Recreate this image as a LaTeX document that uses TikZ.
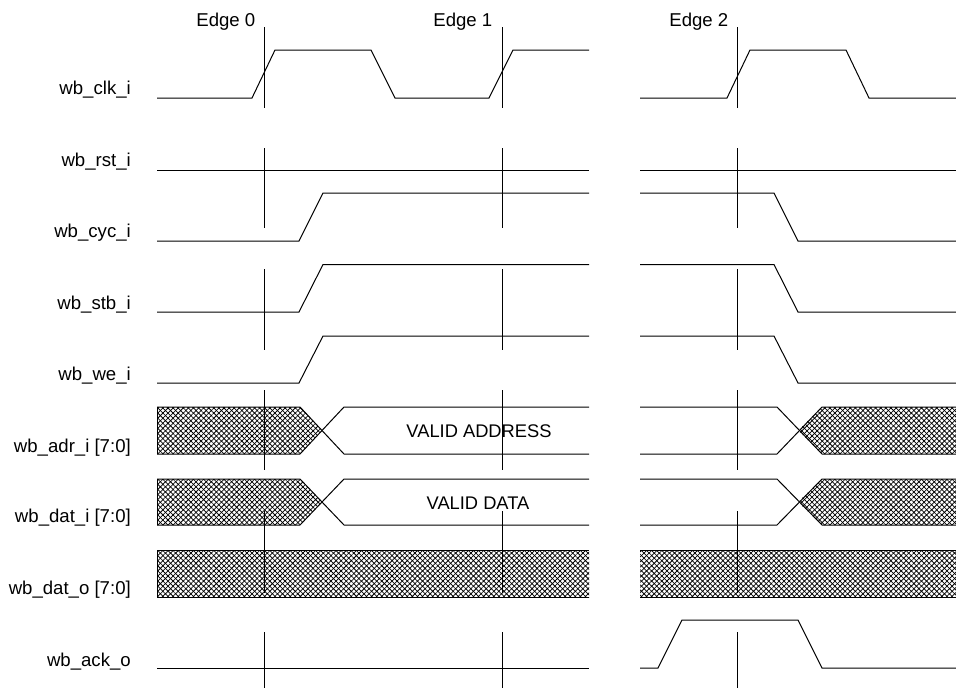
\documentclass[tikz,border=0pt]{standalone}
\usepackage{fontspec}
\setmainfont{Liberation Sans}
\usetikzlibrary{patterns.meta}
\begin{document}
\begin{tikzpicture}[x=1pt,y=-1pt,
  wave/.style={line width=1pt, line join=miter},
  edgeline/.style={line width=1pt},
  hatchA/.style={pattern={Lines[angle=45,distance=3.6pt,line width=0.75pt]}},
  hatchB/.style={pattern={Lines[angle=-45,distance=3.6pt,line width=0.75pt]}},
  lbl/.style={font=\fontsize{18.6}{20}\selectfont, inner sep=0pt, anchor=base east},
  txt/.style={font=\fontsize{18.3}{20}\selectfont, inner sep=0pt, anchor=center}]
\useasboundingbox (0,0) rectangle (956,688);

% signal labels
\node[lbl] (lclk) at (131,94) {wb\_clk\_i};
\node[lbl] (lrst) at (131,166) {wb\_rst\_i};
\node[lbl] (lcyc) at (131,237.5) {wb\_cyc\_i};
\node[lbl] (lstb) at (131,309) {wb\_stb\_i};
\node[lbl] (lwe) at (131,380.5) {wb\_we\_i};
\node[lbl] (ladr) at (131,452) {wb\_adr\_i [7:0]};
\node[lbl] (ldati) at (131,522) {wb\_dat\_i [7:0]};
\node[lbl] (ldato) at (131,594) {wb\_dat\_o [7:0]};
\node[lbl] (lack) at (131,666) {wb\_ack\_o};

% edge labels
\node[lbl] (e0) at (255.5,26) {Edge 0};
\node[lbl] (e1) at (492.5,26) {Edge 1};
\node[lbl] (e2) at (728.5,26) {Edge 2};

% hatched regions
\foreach \h in {hatchA,hatchB}{
  \fill[\h] (157,407)--(300,407)--(322,430.5)--(300,454)--(157,454)--cycle;
  \fill[\h] (956,407)--(822,407)--(798,430.5)--(822,454)--(956,454)--cycle;
  \fill[\h] (157,479)--(300,479)--(322,502)--(300,525)--(157,525)--cycle;
  \fill[\h] (956,479)--(822,479)--(798,502)--(822,525)--(956,525)--cycle;
  \fill[\h] (157,550) rectangle (589,597);
  \fill[\h] (640,550) rectangle (956,597);
}

% clock
\draw[wave] (157,98)--(252,98)--(275,50)--(371,50)--(395,98)--(489,98)--(513,50)--(589,50);
\draw[wave] (640,98)--(727,98)--(750,50)--(846,50)--(869,98)--(956,98);
% reset
\draw[wave] (157,170)--(589,170);
\draw[wave] (640,170)--(956,170);
% cyc
\draw[wave] (157,241)--(299,241)--(323,193)--(589,193);
\draw[wave] (640,193)--(774,193)--(798,241)--(956,241);
% stb
\draw[wave] (157,312)--(299,312)--(323,264.5)--(589,264.5);
\draw[wave] (640,264.5)--(774,264.5)--(798,312)--(956,312);
% we
\draw[wave] (157,383)--(299,383)--(323,336)--(589,336);
\draw[wave] (640,336)--(774,336)--(798,383)--(956,383);
% adr
\draw[wave] (157,407)--(300,407)--(344,454)--(589,454);
\draw[wave] (157,454)--(300,454)--(344,407)--(589,407);
\draw[wave] (157,407)--(157,454);
\draw[wave] (640,407)--(777,407)--(822,454)--(956,454);
\draw[wave] (640,454)--(777,454)--(822,407)--(956,407);
\node[txt] (vadr) at (479,431.5) {VALID ADDRESS};
% dat_i
\draw[wave] (157,479)--(300,479)--(344,525)--(589,525);
\draw[wave] (157,525)--(300,525)--(344,479)--(589,479);
\draw[wave] (157,479)--(157,525);
\draw[wave] (640,479)--(777,479)--(822,525)--(956,525);
\draw[wave] (640,525)--(777,525)--(822,479)--(956,479);
\node[txt] (vdat) at (478,503) {VALID DATA};
% dat_o
\draw[wave] (589,550)--(157,550)--(157,597)--(589,597);
\draw[wave] (956,550)--(640,550);
\draw[wave] (640,597)--(956,597);
% ack
\draw[wave] (157,668)--(589,668);
\draw[wave] (640,668)--(658,668)--(682,620)--(798,620)--(822,668)--(956,668);

% edge markers
\foreach \x in {264,502,737}{
  \foreach \a/\b in {27/108,148/228,269/350,390/470,511/593,632/688}{
    \draw[edgeline] (\x,\a)--(\x,\b);
  }
}
\end{tikzpicture}
\end{document}
